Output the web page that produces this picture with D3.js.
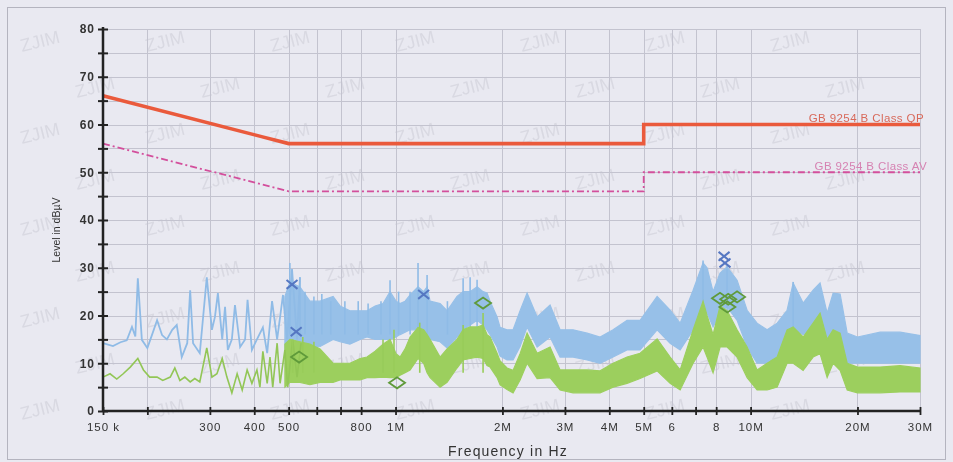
<!DOCTYPE html>
<html><head><meta charset="utf-8">
<script src="https://cdn.jsdelivr.net/npm/d3@7"></script>
<style>
html,body{margin:0;padding:0;background:#e9e9f1;}
svg{display:block;}
</style></head>
<body>
<svg id="c" width="953" height="462"></svg>
<script>
// ---------- DATA (frequencies in MHz, levels in dBµV) ----------
const freqTicks = [0.15,0.2,0.3,0.4,0.5,0.6,0.7,0.8,1,2,3,4,5,6,7,8,10,20,30];
const freqTickLabels = ["150 k","","300","400","500","","","800","1M","2M","3M","4M","5M","6","","8","10M","20M","30M"];
const levelTicks = [0,5,10,15,20,25,30,35,40,45,50,55,60,65,70,75,80];
const levelTickLabels = ["0","","10","","20","","30","","40","","50","","60","","70","","80"];

// Limit lines
const qpLimitFreq = [0.15,0.5,5,5,30];
const qpLimitLevel = [66,56,56,60,60];
const avLimitFreq = [0.15,0.5,5,5,30];
const avLimitLevel = [56,46,46,50,50];
const limitNames = ["GB 9254 B Class QP","GB 9254 B Class AV"];

// Peak trace (blue) — low-frequency part as a line
const pkLineFreq = [0.150,0.160,0.168,0.175,0.181,0.185,0.188,0.193,0.200,0.206,0.213,0.220,0.227,0.235,0.242,0.250,0.259,0.264,0.269,0.281,0.294,0.304,0.310,0.316,0.325,0.331,0.337,0.346,0.353,0.365,0.377,0.383,0.394,0.407,0.423,0.435,0.449,0.464,0.482,0.495,0.511,0.528,0.538];
const pkLineLevel = [14.2,13.6,14.4,14.8,17.6,15.6,27.8,14.9,13.2,15.9,19.0,15.9,15.0,17.0,18.0,11.3,14.2,25.3,14.2,12.1,28.0,17.0,19.7,24.7,15.0,21.8,12.8,15.0,22.2,13.4,15.0,23.3,12.8,15.0,17.5,12.1,23.0,15.0,24.3,15.0,29.7,15.0,28.0];

// Average trace (green) — low-frequency part as a line
const avLineFreq = [0.150,0.157,0.164,0.171,0.179,0.188,0.195,0.203,0.213,0.221,0.232,0.239,0.247,0.255,0.264,0.272,0.281,0.294,0.304,0.314,0.325,0.335,0.346,0.358,0.370,0.382,0.394,0.407,0.415,0.423,0.435,0.443,0.451,0.464,0.473,0.488,0.497,0.513,0.528,0.542];
const avLineLevel = [7.1,7.8,6.7,7.8,9.2,11,8.6,7.1,7.1,6.4,7.1,9.0,6.4,7.1,6.1,6.8,6.1,13.2,7.1,7.8,11,7.1,3.8,7.8,4.4,8.6,5.8,8.6,5,12.5,5.8,11.3,5,14.2,5.8,12.8,5,14.9,7.1,14.2];

// Dense part: envelope of each trace (min / max)
const bandFreq = [0.488,0.504,0.538,0.574,0.613,0.667,0.698,0.744,0.795,0.831,0.876,0.922,0.965,1.003,1.030,1.064,1.099,1.157,1.200,1.227,1.251,1.335,1.397,1.490,1.550,1.622,1.697,1.764,1.810,1.846,1.932,1.970,2.061,2.143,2.243,2.347,2.505,2.724,2.907,3.163,3.464,3.768,4.100,4.488,4.884,5.454,5.934,6.333,6.888,7.347,7.540,7.840,8.205,8.586,9.162,9.776,10.43,11.13,11.88,12.67,13.18,14.06,15.0,15.69,16.43,17.08,17.87,18.71,20.0,23.17,26.37,30.0];
const pkBandHi = [24,27,26,23,23,24,22,21,21,21,22,22.5,25,23,22.5,23,24.3,26,25,26,23,22.5,21,24,25,25,26,25,24.7,23,19.7,17.5,17,17,21,24.7,19.7,22.2,17,17,16.3,15.5,17,19,19,24,21.1,18.4,25.3,31,30,25,28.9,30.2,27.4,21.1,18.4,17,18.4,21.1,26.8,22.6,25.3,26.8,20.5,24.7,24.5,16.3,15.5,16.5,16.5,15.8];
const pkBandLo = [13,13,13.5,13,13.5,15,14.5,14,15,15.5,15,15,15,15.5,16,16.5,17,17,16.5,16,15,14.5,13.2,15.5,17,18,19,18,17,16,13.4,11.5,10.7,10.7,13.5,17.6,13.4,15.5,11.3,11.3,10.7,10,11.3,12.8,12.8,17,14.2,12.8,17,21,20.5,17.6,20.5,21.8,19,13.4,10,10,11.3,14.9,17,16,17,19,12.8,16,15.5,10,10,10,10,10];
const avBandHi = [14,15,14.5,14,13,10,10,10,11,11.3,12.5,14,15,12,11.3,13,15.5,17.5,17,16,15,11.3,13,15,17,17.6,17.6,18,16,15.5,12.1,10.5,9,8.5,12,16.3,12.1,13.4,8.6,8.6,8.6,8.4,10,11.3,12.1,15.1,11.3,8.6,17,23,20,16,22,21,17,13.4,8.6,10,11.3,17,17.6,15.5,18.4,20.5,15,17,16.3,10,9.2,9.2,9.5,9];
const avBandLo = [5,6,6,5.5,6,6,6.5,6.5,6.5,7,7,7.1,7,7,7.5,8,8.6,11,10,8,7,5,6,9,10.7,11,11.3,11,9.5,9.2,7,5.5,4.5,3.8,6.5,10,6.8,7,4.4,3.8,3.8,3.8,5,5.8,6.8,8.4,5.8,4.4,10,13.4,11.3,8,13.4,13.4,11.3,7,4.4,4.4,5,10,10,8.5,11.3,12,7,10,8.5,4.4,3.8,3.8,4,4];

// Narrow spikes rising above the dense envelopes
const pkSpikeFreq = [0.504,0.538,0.556,0.589,0.620,0.657,0.720,0.785,0.837,0.910,0.965,1.020,1.099,1.157,1.227,1.400,1.550,1.622,1.697,7.347,8.586,13.18];
const pkSpikeTop  = [31,28,25,24,24.5,23,23,23,22.5,23,27.4,25,25,31,28.5,23,27.8,28,27.5,31.5,30.5,27];
const avSpikeFreq = [0.513,0.548,0.589,0.922,0.990,1.170,1.550,1.764];
const avSpikeTop  = [15,15.5,14.5,15,17,18.5,18,20.5];

// Final measurement markers
const qpMarkFreq = [0.511,0.525,1.200,8.42,8.47];
const qpMarkLevel = [26.5,16.6,24.4,32.4,31.0];
const avMarkFreq = [0.535,1.01,1.764,8.20,8.60,8.65,9.16];
const avMarkLevel = [11.3,5.9,22.6,23.6,21.8,23.4,23.9];

const xTitle = "Frequency in Hz";
const yTitle = "Level in dBµV";
const watermark = "ZJIM";

// ---------- DRAW ----------
const svg = d3.select("#c");
const L = 103, R = 920, T = 29, B = 411;
const x = d3.scaleLog().domain([0.15,30]).range([L,R]);
const y = d3.scaleLinear().domain([0,80]).range([B,T]);
const font = "'Liberation Sans', Arial, sans-serif";

// background
svg.append("rect").attr("width",953).attr("height",462).attr("fill","#e9e9f1");
// watermark
const wm = svg.append("g").attr("fill","#9a9aa8").attr("opacity",0.2)
  .attr("font-family",font).attr("font-size",18);
for (let r = 0; r < 9; r++) {
  for (let c = 0; c < 8; c++) {
    const wx = 22 + c*125 + (r%2)*55, wy = 52 + r*46;
    if (wx > 880) continue;
    wm.append("text").attr("x",wx).attr("y",wy)
      .attr("transform",`rotate(-14,${wx},${wy})`).text(watermark);
  }
}
// frame
svg.append("rect").attr("x",7.5).attr("y",7.5).attr("width",938).attr("height",452)
  .attr("fill","none").attr("stroke","#b4b4bf").attr("stroke-width",1);

// grid
const grid = svg.append("g").attr("stroke","#c3c3cf").attr("stroke-width",1);
levelTicks.filter(v=>v>0).forEach(v=>{
  grid.append("line").attr("x1",L).attr("x2",R).attr("y1",Math.round(y(v))+0.5).attr("y2",Math.round(y(v))+0.5);
});
freqTicks.filter(f=>f>0.15).forEach(f=>{
  grid.append("line").attr("x1",Math.round(x(f))+0.5).attr("x2",Math.round(x(f))+0.5).attr("y1",T).attr("y2",B);
});

// traces
const lineGen = d3.line().x(d=>x(d[0])).y(d=>y(d[1]));
const areaGen = d3.area().x(d=>x(d[0])).y0(d=>y(d[1])).y1(d=>y(d[2]));
const blue = "#97c0e8", green = "#9ccf5e";

svg.append("path").datum(bandFreq.map((f,i)=>[f,pkBandLo[i],pkBandHi[i]]))
  .attr("d",areaGen).attr("fill",blue).attr("stroke",blue).attr("stroke-width",1.2);
svg.append("path").datum(pkLineFreq.map((f,i)=>[f,pkLineLevel[i]]))
  .attr("d",lineGen).attr("fill","none").attr("stroke","#8fbbe6").attr("stroke-width",1.8);
svg.append("g").selectAll("line").data(pkSpikeFreq).join("line")
  .attr("x1",d=>x(d)).attr("x2",d=>x(d)).attr("y1",(d,i)=>y(pkSpikeTop[i])).attr("y2",y(16))
  .attr("stroke","#8fbbe6").attr("stroke-width",1.6);

svg.append("path").datum(bandFreq.map((f,i)=>[f,avBandLo[i],avBandHi[i]]))
  .attr("d",areaGen).attr("fill",green).attr("stroke",green).attr("stroke-width",1.2);
svg.append("path").datum(avLineFreq.map((f,i)=>[f,avLineLevel[i]]))
  .attr("d",lineGen).attr("fill","none").attr("stroke","#92c656").attr("stroke-width",1.6);
svg.append("g").selectAll("line").data(avSpikeFreq).join("line")
  .attr("x1",d=>x(d)).attr("x2",d=>x(d)).attr("y1",(d,i)=>y(avSpikeTop[i])).attr("y2",y(8))
  .attr("stroke","#98cc5a").attr("stroke-width",1.6);

// limit lines
svg.append("path").datum(avLimitFreq.map((f,i)=>[f,avLimitLevel[i]]))
  .attr("d",lineGen).attr("fill","none").attr("stroke","#d34f9c").attr("stroke-width",1.8)
  .attr("stroke-dasharray","7,3,2,3");
svg.append("path").datum(qpLimitFreq.map((f,i)=>[f,qpLimitLevel[i]]))
  .attr("d",lineGen).attr("fill","none").attr("stroke","#ea5a3c").attr("stroke-width",3.6);

svg.append("text").attr("x",R+4).attr("y",y(60)-2.5).attr("text-anchor","end")
  .attr("font-family",font).attr("font-size",11.5).attr("fill","#d8695a").attr("letter-spacing",0.4)
  .text(limitNames[0]);
svg.append("text").attr("x",R+7).attr("y",y(50)-2).attr("text-anchor","end")
  .attr("font-family",font).attr("font-size",11.5).attr("fill","#d682b2").attr("letter-spacing",0.4)
  .text(limitNames[1]);

// markers
const mk = svg.append("g");
qpMarkFreq.forEach((f,i)=>{
  const cx = x(f), cy = y(qpMarkLevel[i]), s = 5.5;
  mk.append("path").attr("d",`M${cx-s},${cy-s*0.8}L${cx+s},${cy+s*0.8}M${cx-s},${cy+s*0.8}L${cx+s},${cy-s*0.8}`)
    .attr("stroke","#5577c2").attr("stroke-width",2).attr("fill","none");
});
avMarkFreq.forEach((f,i)=>{
  const cx = x(f), cy = y(avMarkLevel[i]), w = 8, h = 5.5;
  mk.append("path").attr("d",`M${cx-w},${cy}L${cx},${cy-h}L${cx+w},${cy}L${cx},${cy+h}Z`)
    .attr("stroke","#5f9a3a").attr("stroke-width",1.8).attr("fill","none");
});

// axes
const ax = svg.append("g").attr("stroke","#222");
ax.append("line").attr("x1",L).attr("x2",L).attr("y1",T-2).attr("y2",B).attr("stroke-width",2.5);
ax.append("line").attr("x1",L).attr("x2",R+1).attr("y1",B).attr("y2",B).attr("stroke-width",2.5);

const yAxis = d3.axisLeft(y).tickValues(levelTicks).tickSize(0).tickPadding(8)
  .tickFormat((d,i)=>levelTickLabels[i]);
const gy = svg.append("g").attr("transform",`translate(${L},0)`).call(yAxis);
gy.select(".domain").remove();
gy.selectAll(".tick line").attr("x1",-5).attr("x2",5).attr("stroke","#222").attr("stroke-width",2);
gy.selectAll(".tick text").attr("font-family",font).attr("font-size",12).attr("font-weight","bold")
  .attr("fill","#333").attr("letter-spacing",1);

const xAxis = d3.axisBottom(x).tickValues(freqTicks).tickSize(0).tickPadding(12)
  .tickFormat((d,i)=>freqTickLabels[i]);
const gx = svg.append("g").attr("transform",`translate(0,${B})`).call(xAxis);
gx.select(".domain").remove();
gx.selectAll(".tick line").attr("y1",-4).attr("y2",4).attr("stroke","#222").attr("stroke-width",1.8);
gx.selectAll(".tick text").attr("font-family",font).attr("font-size",11.5)
  .attr("fill","#333").attr("letter-spacing",1);

svg.append("text").attr("x",508).attr("y",456).attr("text-anchor","middle")
  .attr("font-family",font).attr("font-size",14).attr("fill","#333").attr("letter-spacing",1.2)
  .text(xTitle);
svg.append("text").attr("transform","translate(60,230) rotate(-90)").attr("text-anchor","middle")
  .attr("font-family","'Liberation Sans Narrow', 'Liberation Sans', Arial, sans-serif")
  .attr("font-size",10.5).attr("fill","#333").text(yTitle);
</script>
</body></html>
